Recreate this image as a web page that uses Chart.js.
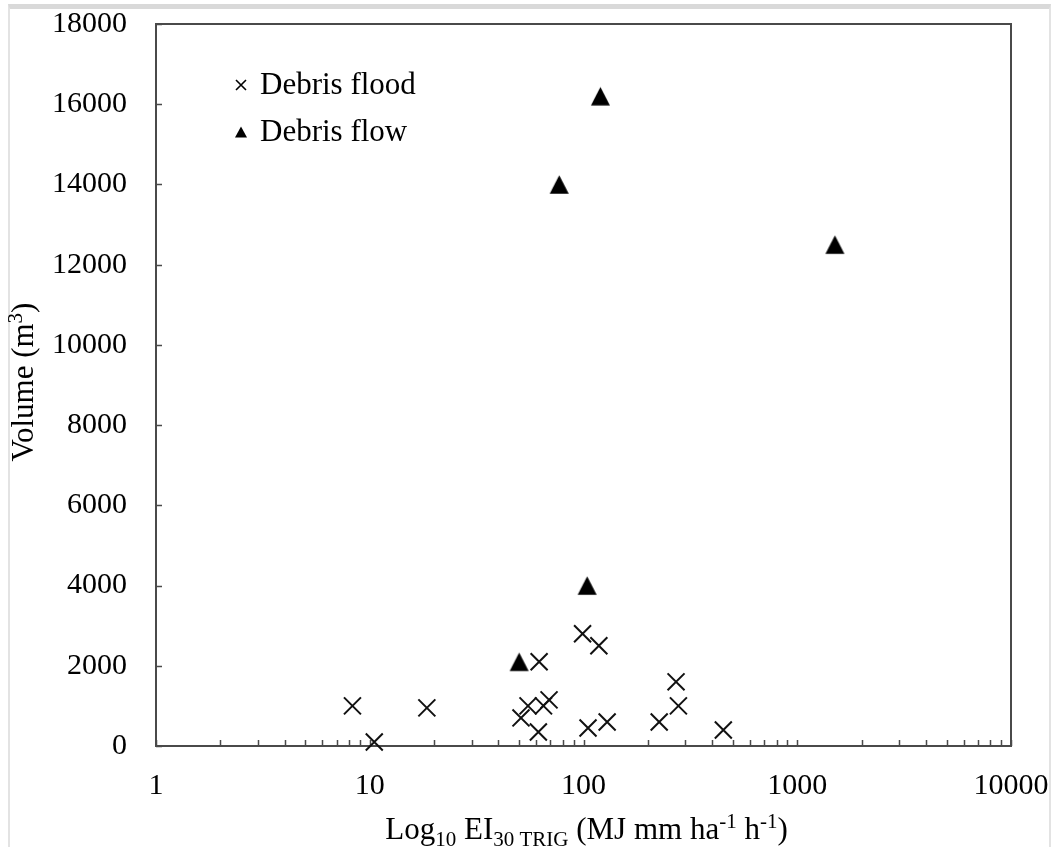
<!DOCTYPE html>
<html>
<head>
<meta charset="utf-8">
<script src="https://cdn.jsdelivr.net/npm/chart.js@4.4.1/dist/chart.umd.min.js"></script>
<style>
  html, body { margin: 0; padding: 0; background: #fff; }
  #wrap { position: relative; width: 1053px; height: 847px; overflow: hidden; background: #fff; }
  #frame {
    position: absolute; left: 8px; top: 4px; width: 1043px; height: 900px;
    border-top: 5px solid #d9d9d9; border-left: 2px solid #e3e3e3; border-right: 2px solid #e3e3e3;
    box-sizing: border-box;
  }
  #c { position: absolute; left: 0; top: 0; }
</style>
</head>
<body>
<div id="wrap">
  <div id="frame"></div>
  <canvas id="c" width="1053" height="847"></canvas>
</div>
<script>
// EI30 at triggering rainfall (MJ mm ha-1 h-1) and event volume (m3)
const floodEI     = [8.3, 10.5, 18.5, 51, 55, 61.5, 62, 65, 69, 99, 105, 118, 129, 226, 271, 278, 451];
const floodVolume = [1000, 100, 950, 700, 1000, 350, 2100, 1000, 1150, 2800, 450, 2500, 600, 600, 1600, 1000, 400];
const flowEI      = [50, 77, 104, 120, 1500];
const flowVolume  = [2100, 14000, 4000, 16200, 12500];

const seriesNames = ['Debris flood', 'Debris flow'];
const xDecades = [1, 10, 100, 1000, 10000];
const yTicks = [0, 2000, 4000, 6000, 8000, 10000, 12000, 14000, 16000, 18000];

const FONT = '"Liberation Serif", "Times New Roman", serif';
const INK = '#000';
const AXIS = '#4a4a4a';

// every 1..9 multiple of each decade, for the log-axis tick marks
const xAllTicks = [];
for (let i = 0; i < xDecades.length - 1; i++) {
  for (let k = 1; k <= 9; k++) xAllTicks.push(k * xDecades[i]);
}
xAllTicks.push(xDecades[xDecades.length - 1]);

// filled triangle, centred on its bounding box
function triangleMarker(w, h) {
  const s = Math.ceil(Math.max(w, h)) + 4;
  const c = document.createElement('canvas');
  c.width = s; c.height = s;
  const g = c.getContext('2d');
  g.fillStyle = INK;
  g.beginPath();
  g.moveTo(s / 2, s / 2 - h / 2);
  g.lineTo(s / 2 + w / 2, s / 2 + h / 2);
  g.lineTo(s / 2 - w / 2, s / 2 + h / 2);
  g.closePath();
  g.fill();
  return c;
}
const triPoint = triangleMarker(19, 18.5);
const triLegend = triangleMarker(12, 11);

// draws a run of text pieces, some lowered (sub) or raised (sup)
function drawRich(ctx, parts, cx, baseY, mainSize) {
  const fontFor = p => (p.sub || p.sup ? Math.round(mainSize * 0.68) : mainSize) + 'px ' + FONT;
  let total = 0;
  parts.forEach(p => { ctx.font = fontFor(p); p.w = ctx.measureText(p.t).width; total += p.w; });
  let x = cx - total / 2;
  ctx.textAlign = 'left';
  ctx.textBaseline = 'alphabetic';
  parts.forEach(p => {
    ctx.font = fontFor(p);
    const dy = p.sub ? mainSize * 0.24 : (p.sup ? -mainSize * 0.36 : 0);
    ctx.fillText(p.t, x, baseY + dy);
    x += p.w;
  });
}

const xTitleParts = [
  { t: 'Log' }, { t: '10', sub: true }, { t: ' EI' }, { t: '30 TRIG', sub: true },
  { t: ' (MJ mm ha' }, { t: '-1', sup: true }, { t: ' h' }, { t: '-1', sup: true }, { t: ')' }
];
const yTitleParts = [{ t: 'Volume (m' }, { t: '3', sup: true }, { t: ')' }];

const decorations = {
  id: 'decorations',
  beforeDatasetsDraw(chart) {
    const { ctx, chartArea: a, scales: { x, y } } = chart;
    ctx.save();
    ctx.strokeStyle = AXIS;
    ctx.lineWidth = 2;
    ctx.strokeRect(a.left, a.top, a.right - a.left, a.bottom - a.top);
    // inward tick marks
    ctx.lineWidth = 1.5;
    ctx.beginPath();
    xAllTicks.forEach(v => {
      const px = Math.round(x.getPixelForValue(v)) + 0.5;
      ctx.moveTo(px, a.bottom);
      ctx.lineTo(px, a.bottom - 6);
    });
    yTicks.forEach(v => {
      const py = Math.round(y.getPixelForValue(v)) + 0.5;
      ctx.moveTo(a.left, py);
      ctx.lineTo(a.left + 6, py);
    });
    ctx.stroke();
    ctx.restore();
  },
  afterDraw(chart) {
    const { ctx, chartArea: a } = chart;
    ctx.save();
    ctx.fillStyle = INK;
    // axis titles
    drawRich(ctx, xTitleParts, (a.left + a.right) / 2 + 3, 839, 31);
    ctx.translate(33, 382);
    ctx.rotate(-Math.PI / 2);
    drawRich(ctx, yTitleParts, 0, 0, 31);
    ctx.setTransform(1, 0, 0, 1, 0, 0);
    // legend
    const lx = 241;
    const rows = [85, 132];
    ctx.strokeStyle = INK;
    ctx.lineWidth = 1.6;
    ctx.beginPath();
    ctx.moveTo(lx - 5, rows[0] - 5); ctx.lineTo(lx + 5, rows[0] + 5);
    ctx.moveTo(lx + 5, rows[0] - 5); ctx.lineTo(lx - 5, rows[0] + 5);
    ctx.stroke();
    ctx.drawImage(triLegend, lx - triLegend.width / 2, rows[1] - triLegend.height / 2);
    ctx.font = '31px ' + FONT;
    ctx.textAlign = 'left';
    ctx.textBaseline = 'middle';
    seriesNames.forEach((n, i) => ctx.fillText(n, 260, rows[i] + 1));
    ctx.restore();
  }
};

Chart.defaults.font.family = FONT;
Chart.defaults.font.size = 30;
Chart.defaults.color = INK;

new Chart(document.getElementById('c'), {
  type: 'scatter',
  data: {
    datasets: [
      {
        label: seriesNames[0],
        data: floodEI.map((v, i) => ({ x: v, y: floodVolume[i] })),
        pointStyle: 'crossRot',
        pointRadius: 12,
        pointHoverRadius: 12,
        borderColor: '#111',
        backgroundColor: '#111',
        borderWidth: 2,
        clip: false
      },
      {
        label: seriesNames[1],
        data: flowEI.map((v, i) => ({ x: v, y: flowVolume[i] })),
        pointStyle: triPoint,
        clip: false
      }
    ]
  },
  options: {
    responsive: false,
    animation: false,
    events: [],
    layout: { padding: { left: 0, top: 24, right: 42, bottom: 0 } },
    plugins: { legend: { display: false }, tooltip: { enabled: false } },
    scales: {
      x: {
        type: 'logarithmic',
        min: 1,
        max: 10000,
        grid: { display: false, drawTicks: false },
        border: { display: false },
        afterBuildTicks: s => { s.ticks = xAllTicks.map(v => ({ value: v })); },
        afterFit: s => { s.height = 101; s.paddingLeft = 0; s.paddingRight = 0; },
        ticks: {
          autoSkip: false,
          maxRotation: 0,
          padding: 22,
          callback: v => (xDecades.includes(v) ? String(v) : '')
        }
      },
      y: {
        type: 'linear',
        min: 0,
        max: 18000,
        grid: { display: false, drawTicks: false },
        border: { display: false },
        afterBuildTicks: s => { s.ticks = yTicks.map(v => ({ value: v })); },
        afterFit: s => { s.width = 156; s.paddingTop = 0; s.paddingBottom = 0; },
        ticks: {
          padding: 29,
          callback: v => String(v)
        }
      }
    }
  },
  plugins: [decorations]
});
</script>
</body>
</html>
